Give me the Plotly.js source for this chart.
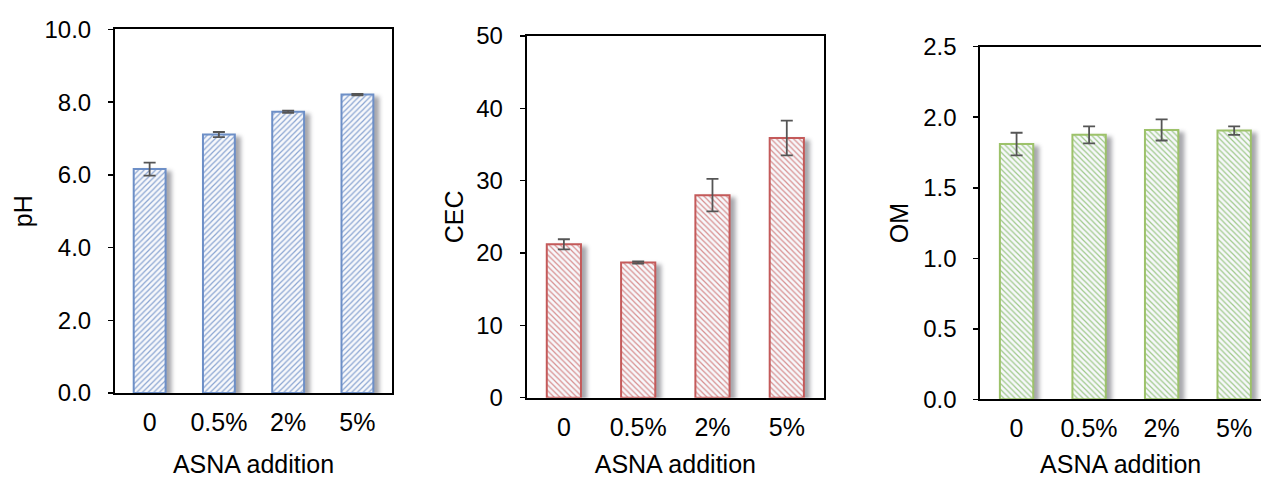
<!DOCTYPE html>
<html>
<head>
<meta charset="utf-8">
<script src="https://cdn.plot.ly/plotly-3.0.1.min.js"></script>
<style>
html, body { margin: 0; padding: 0; background: #fff; overflow: hidden; }
#chart { width: 1261px; height: 478px; }
.barlayer .point path { filter: drop-shadow(5px 3px 2px rgba(60,60,70,0.45)); }
</style>
</head>
<body>
<div id="chart"></div>
<script>
const categories = ["0", "0.5%", "2%", "5%"];
const phValues = [6.16, 7.11, 7.74, 8.21];
const phErrors = [0.18, 0.07, 0.03, 0.02];
const cecValues = [21.2, 18.7, 28.0, 35.9];
const cecErrors = [0.7, 0.15, 2.25, 2.4];
const omValues = [1.81, 1.875, 1.91, 1.905];
const omErrors = [0.08, 0.06, 0.075, 0.03];

const FONT = "Liberation Sans, Arial, sans-serif";

function barTrace(vals, errs, xa, ya, line, fg, shape) {
  return {
    type: "bar", x: categories, y: vals, xaxis: xa, yaxis: ya, width: 0.46,
    marker: {
      color: "#ffffff",
      line: { color: line, width: 2 },
      pattern: { shape: shape, fgcolor: fg, bgcolor: "#f7f8fb", size: 4, solidity: 0.3 }
    },
    error_y: { type: "data", array: errs, visible: true, color: "#555555", thickness: 1.8, width: 6 },
    hoverinfo: "skip", showlegend: false
  };
}

const data = [
  barTrace(phValues, phErrors, "x", "y", "#6d8fc7", "#8aa5d2", "/"),
  barTrace(cecValues, cecErrors, "x2", "y2", "#c45a5a", "#d88f8f", "\\"),
  barTrace(omValues, omErrors, "x3", "y3", "#9dc26a", "#9fc98a", "\\")
];

function xAxis(domain, anchor, range, standoff) {
  return {
    domain: domain, anchor: anchor, range: range, type: "category",
    showline: true, linecolor: "#000", linewidth: 2, mirror: true,
    ticks: "", showgrid: false, zeroline: false,
    tickfont: { family: FONT, size: 25, color: "#000" },
    ticklabelstandoff: 6,
    title: { text: "ASNA addition", font: { family: FONT, size: 25, color: "#000" }, standoff: standoff }
  };
}
function yAxis(domain, anchor, range, dtick, fmt, title, standoff, mirror) {
  return {
    domain: domain, anchor: anchor, range: range, dtick: dtick, tick0: 0, tickformat: fmt,
    showline: true, linecolor: "#000", linewidth: 2, mirror: mirror,
    ticks: "outside", ticklen: 5, tickwidth: 1.5, tickcolor: "#000",
    showgrid: false, zeroline: false,
    tickfont: { family: FONT, size: 24, color: "#000" },
    ticklabelstandoff: 12,
    title: { text: title, font: { family: FONT, size: 25, color: "#000" }, standoff: standoff }
  };
}

const layout = {
  width: 1261, height: 478,
  margin: { l: 0, r: 0, t: 0, b: 0 },
  paper_bgcolor: "#fff", plot_bgcolor: "#fff",
  xaxis: xAxis([0.0912, 0.3109], "y", [-0.5, 3.5], 21),
  yaxis: yAxis([0.1778, 0.9383], "x", [0, 10], 2, ".1f", "pH", 5, true),
  xaxis2: xAxis([0.4177, 0.6534], "y2", [-0.5, 3.5], 19),
  yaxis2: yAxis([0.168, 0.9247], "x2", [0, 50], 10, "d", "CEC", 5, true),
  xaxis3: xAxis([0.7774, 1.0], "y3", [-0.5, 3.37], 17),
  yaxis3: yAxis([0.1646, 0.9023], "x3", [0, 2.5], 0.5, ".1f", "OM", 7, false)
};

Plotly.newPlot("chart", data, layout, { displayModeBar: false, staticPlot: true });
</script>
</body>
</html>
